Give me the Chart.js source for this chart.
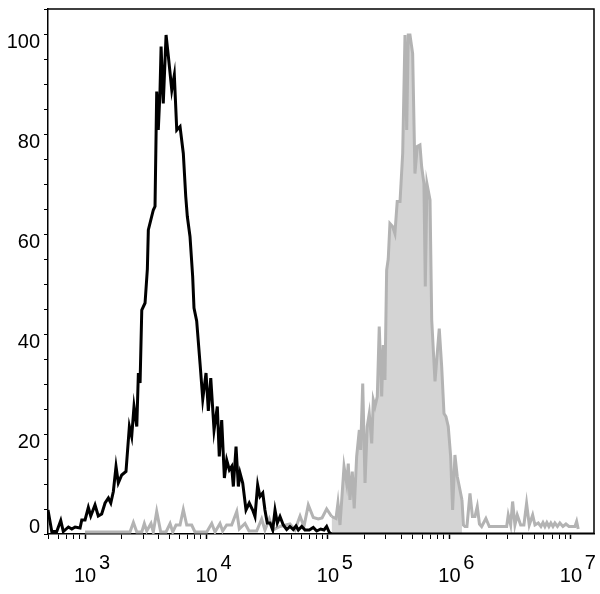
<!DOCTYPE html>
<html>
<head>
<meta charset="utf-8">
<script src="https://cdn.jsdelivr.net/npm/chart.js@4/dist/chart.umd.min.js"></script>
<style>
  html, body { margin: 0; padding: 0; background: #fff; }
  canvas { display: block; }
</style>
</head>
<body>
<canvas id="histChart" width="600" height="594"></canvas>
<script>
'use strict';

// x positions are log10 of intensity, counts are % of max
const blackLog = [2.695, 2.726, 2.767, 2.800, 2.821, 2.863, 2.891, 2.918, 2.959, 2.973,
  3.000, 3.027, 3.047, 3.082, 3.109, 3.137, 3.165, 3.192, 3.212, 3.233,
  3.255, 3.274, 3.302, 3.337, 3.365, 3.384, 3.403, 3.426, 3.439, 3.453,
  3.467, 3.494, 3.513, 3.521, 3.562, 3.576, 3.590, 3.603, 3.617, 3.626,
  3.644, 3.667, 3.686, 3.714, 3.735, 3.755, 3.782, 3.809, 3.829, 3.842,
  3.864, 3.886, 3.897, 3.919, 3.947, 3.969, 3.996, 4.015, 4.035, 4.062,
  4.089, 4.105, 4.125, 4.147, 4.166, 4.188, 4.207, 4.221, 4.243, 4.262,
  4.276, 4.298, 4.325, 4.352, 4.380, 4.399, 4.421, 4.440, 4.463, 4.481,
  4.500, 4.523, 4.545, 4.564, 4.583, 4.605, 4.632, 4.660, 4.687, 4.714,
  4.737, 4.756, 4.784, 4.811, 4.846, 4.879, 4.907, 4.940, 4.967, 4.989,
  5.011, 5.030, 7.190];
const blackCount = [4.8, 0.5, 0.5, 2.7, 0.5, 1.4, 1.0, 1.4, 1.2, 2.8,
  2.8, 5.3, 3.6, 5.8, 3.6, 4.0, 6.2, 7.2, 6.2, 8.5,
  13.5, 10.2, 11.8, 12.5, 21.5, 19.5, 25.5, 21.5, 32.2, 30.2,
  44.8, 46.2, 53.0, 60.8, 64.8, 65.5, 88.5, 80.8, 88.5, 97.5,
  86.1, 99.8, 95.5, 88.8, 91.8, 80.8, 81.5, 76.1, 67.5, 63.5,
  59.5, 51.5, 45.2, 42.6, 34.0, 27.0, 32.2, 24.6, 31.2, 20.8,
  25.5, 15.5, 22.8, 11.2, 14.8, 12.8, 13.5, 9.5, 17.5, 9.5,
  12.2, 10.2, 4.8, 6.2, 4.8, 3.5, 9.8, 7.5, 8.2, 4.8,
  2.2, 2.2, 0.8, 4.8, 2.2, 3.5, 1.8, 0.9, 1.5, 0.9,
  1.6, 0.8, 1.5, 0.8, 0.8, 1.3, 0.6, 1.0, 0.8, 1.5,
  0.3, 0, 0];

const grayLog = [3.000, 3.370, 3.398, 3.426, 3.467, 3.488, 3.508, 3.543, 3.562, 3.590,
  3.623, 3.667, 3.700, 3.722, 3.749, 3.782, 3.809, 3.837, 3.878, 3.905,
  4.002, 4.043, 4.070, 4.111, 4.133, 4.166, 4.207, 4.249, 4.270, 4.317,
  4.350, 4.413, 4.454, 4.481, 4.517, 4.547, 4.605, 4.687, 4.728, 4.770,
  4.802, 4.838, 4.879, 4.920, 4.951, 4.989, 5.030, 5.066, 5.082, 5.099,
  5.132, 5.154, 5.167, 5.181, 5.200, 5.216, 5.236, 5.258, 5.269, 5.286,
  5.305, 5.323, 5.340, 5.360, 5.373, 5.387, 5.406, 5.422, 5.442, 5.455,
  5.469, 5.483, 5.496, 5.510, 5.532, 5.551, 5.570, 5.593, 5.615, 5.634,
  5.648, 5.661, 5.675, 5.697, 5.716, 5.735, 5.757, 5.771, 5.790, 5.801,
  5.815, 5.840, 5.854, 5.881, 5.916, 5.936, 5.955, 5.971, 5.990, 6.010,
  6.026, 6.045, 6.064, 6.081, 6.103, 6.115, 6.128, 6.144, 6.169, 6.189,
  6.210, 6.229, 6.247, 6.265, 6.300, 6.328, 6.389, 6.471, 6.484, 6.504,
  6.520, 6.539, 6.558, 6.586, 6.613, 6.635, 6.657, 6.685, 6.704, 6.731,
  6.753, 6.770, 6.786, 6.802, 6.819, 6.835, 6.852, 6.868, 6.889, 6.909,
  6.934, 6.959, 6.984, 7.008, 7.033, 7.047, 7.060];
const grayCount = [0.4, 0.4, 2.3, 0.4, 0.4, 2.1, 0.6, 2.1, 0.4, 4.5,
  0.4, 0.4, 2.1, 0.4, 1.8, 1.8, 4.9, 1.8, 1.8, 0.4,
  0.4, 2.1, 0.4, 2.1, 0.6, 1.8, 1.8, 4.5, 1.0, 2.1,
  0.6, 0.6, 3.0, 0.8, 3.0, 0.8, 1.5, 2.0, 0.8, 3.6,
  1.5, 5.8, 3.3, 3.0, 3.2, 5.0, 3.5, 3.1, 6.2, 1.8,
  13.5, 10.1, 14.1, 6.8, 12.5, 5.1, 15.5, 20.8, 16.8, 30.1,
  10.2, 21.5, 24.1, 18.1, 26.8, 25.5, 27.5, 41.5, 27.5, 37.8,
  30.8, 52.8, 55.0, 62.1, 61.5, 60.1, 66.5, 66.5, 76.1, 99.8,
  80.8, 99.8, 99.8, 96.1, 72.1, 77.5, 77.8, 73.5, 70.1, 49.5,
  70.0, 66.8, 42.8, 30.5, 41.1, 33.5, 24.1, 23.5, 21.5, 15.5,
  4.8, 15.8, 11.5, 9.5, 6.8, 1.8, 1.5, 1.5, 8.1, 3.5,
  3.5, 5.5, 2.0, 1.5, 3.1, 1.5, 1.5, 1.5, 3.8, 1.8,
  6.5, 1.8, 3.8, 1.8, 1.8, 6.1, 1.8, 3.8, 1.8, 2.2,
  1.5, 2.3, 1.5, 2.3, 1.5, 2.2, 1.5, 2.2, 1.5, 2.2,
  1.5, 2.0, 1.5, 1.5, 1.5, 2.5, 1.0];

// gated (filled) part of the gray histogram, in log10 units
const fillFrom = 5.0;
const fillTo = 6.11;

const xRangeLog = [2.695, 7.19];
const xDecades = [3, 4, 5, 6, 7];
const yMax = 105;
const yLabelEvery = 20;

const toPoints = (logs, counts) => logs.map((l, i) => ({x: Math.pow(10, l), y: counts[i]}));

const frame = {
  id: 'frame',
  afterDatasetsDraw(chart) {
    const {ctx, chartArea: a} = chart;
    ctx.save();
    ctx.strokeStyle = '#000';
    ctx.lineWidth = 1.5;
    ctx.beginPath();
    ctx.moveTo(a.left, a.top);
    ctx.lineTo(a.right, a.top);
    ctx.lineTo(a.right, a.bottom);
    ctx.stroke();
    ctx.restore();
  }
};

Chart.defaults.font.family = 'Arial, "Liberation Sans", sans-serif';
Chart.defaults.color = '#000';

new Chart(document.getElementById('histChart'), {
  type: 'line',
  data: {
    datasets: [
      {
        label: 'control',
        data: toPoints(blackLog, blackCount),
        borderColor: '#000',
        borderWidth: 3,
        pointRadius: 0,
        fill: false,
      },
      {
        label: 'stained',
        data: toPoints(grayLog, grayCount),
        borderColor: '#b3b3b3',
        borderWidth: 3,
        pointRadius: 0,
        backgroundColor: 'rgba(0,0,0,0)',
        fill: 'origin',
        segment: {
          backgroundColor: c => (c.p0.parsed.x >= Math.pow(10, fillFrom) && c.p1.parsed.x <= Math.pow(10, fillTo))
            ? '#d4d4d4' : 'rgba(0,0,0,0)',
        },
      },
    ],
  },
  options: {
    responsive: false,
    animation: false,
    devicePixelRatio: 1,
    layout: {padding: {top: 9, right: 6, left: 0, bottom: 0}},
    plugins: {legend: {display: false}, tooltip: {enabled: false}},
    scales: {
      x: {
        type: 'logarithmic',
        min: Math.pow(10, xRangeLog[0]),
        max: Math.pow(10, xRangeLog[1]),
        afterBuildTicks: scale => {
          const ticks = [];
          for (let d = xDecades[0] - 1; d <= xDecades[xDecades.length - 1]; d++) {
            for (let k = 1; k <= 9; k++) {
              const v = k * Math.pow(10, d);
              if (v >= scale.min && v <= scale.max) ticks.push({value: v, major: k === 1});
            }
          }
          scale.ticks = ticks;
        },
        afterFit: scale => {
          scale.height = 60;
          scale.paddingLeft = 0;
          scale.paddingRight = 0;
        },
        grid: {
          drawOnChartArea: false,
          tickLength: 5,
          tickColor: '#000',
          tickWidth: c => (c.tick && c.tick.major ? 1.5 : 1),
        },
        border: {color: '#000', width: 1.5},
        ticks: {
          autoSkip: false,
          maxRotation: 0,
          padding: 18,
          font: {size: 20, lineHeight: 0.65},
          callback: function(value) {
            const e = Math.log10(value);
            if (Math.abs(e - Math.round(e)) < 1e-6) {
              // exponent on the first line, shifted right of the "10"
              return ['       ' + Math.round(e), '10'];
            }
            return '';
          },
        },
      },
      y: {
        min: 0,
        max: yMax,
        afterFit: scale => {
          scale.width = 48;
          scale.paddingTop = 0;
          scale.paddingBottom = 0;
        },
        grid: {
          drawOnChartArea: false,
          tickLength: 4,
          tickColor: '#000',
          tickWidth: 1,
        },
        border: {color: '#000', width: 1.5},
        ticks: {
          stepSize: 5,
          autoSkip: false,
          padding: 4,
          labelOffset: 8,
          font: {size: 20, lineHeight: 1.5},
          callback: function(value) {
            if (value % yLabelEvery !== 0) return '';
            // the 0 label sits above its tick, like the original
            return value === 0 ? ['0', ''] : String(value);
          },
        },
      },
    },
  },
  plugins: [frame],
});
</script>
</body>
</html>
